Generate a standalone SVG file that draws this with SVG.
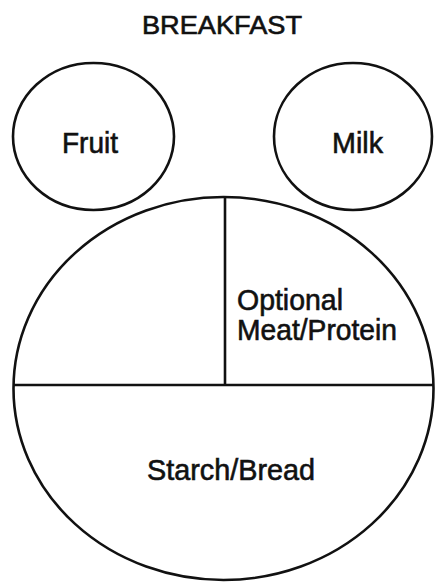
<svg xmlns="http://www.w3.org/2000/svg" width="435" height="582" viewBox="0 0 435 582">
<style>
.shape{fill:none;stroke:#111;stroke-width:2.6}
.lbl{font-family:"Liberation Sans",Arial,sans-serif;font-size:29px;fill:#111;stroke:#111;stroke-width:0.6}
.title{font-family:"Liberation Sans",Arial,sans-serif;font-size:25px;fill:#111;stroke:#111;stroke-width:0.6}
</style>
<rect width="435" height="582" fill="#fff"/>
<text class="title" x="222" y="34" text-anchor="middle" textLength="160" lengthAdjust="spacingAndGlyphs">BREAKFAST</text>
<g id="fruit">
<ellipse class="shape" cx="93.5" cy="136.5" rx="80.5" ry="73.5"/>
<text class="lbl" x="90" y="153" text-anchor="middle" textLength="56" lengthAdjust="spacingAndGlyphs">Fruit</text>
</g>
<g id="milk">
<ellipse class="shape" cx="353" cy="136.5" rx="79" ry="73.5"/>
<text class="lbl" x="357.5" y="153" text-anchor="middle" textLength="51" lengthAdjust="spacingAndGlyphs">Milk</text>
</g>
<g id="plate">
<ellipse class="shape" cx="223.5" cy="388.5" rx="210" ry="191.5"/>
</g>
<g id="protein">
<text class="lbl" x="237" y="310" textLength="106" lengthAdjust="spacingAndGlyphs">Optional</text>
<text class="lbl" x="237" y="340" textLength="160" lengthAdjust="spacingAndGlyphs">Meat/Protein</text>
</g>
<g id="starch">
<text class="lbl" x="231" y="480" text-anchor="middle" textLength="168" lengthAdjust="spacingAndGlyphs">Starch/Bread</text>
</g>
<g id="connectors">
<line class="shape" x1="225" y1="197" x2="225" y2="385"/>
<line class="shape" x1="14" y1="385" x2="433" y2="385"/>
</g>
</svg>
